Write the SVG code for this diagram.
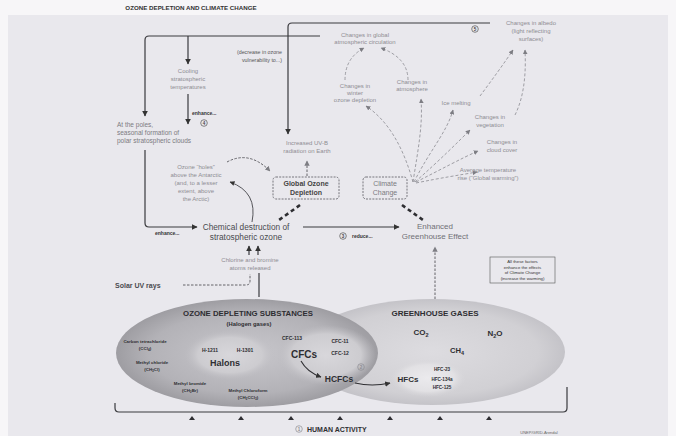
<svg xmlns="http://www.w3.org/2000/svg" width="676" height="436" viewBox="0 0 676 436">
<defs>
<style>
text{font-family:"Liberation Sans",Arial,sans-serif}
.lt{fill:#8e8d93;font-size:6px;text-anchor:middle}
.ln{fill:none;stroke:#3a3a3e;stroke-width:1.2}
.dl{fill:none;stroke:#8a8a90;stroke-width:0.8;stroke-dasharray:3 2}
.ddk{fill:none;stroke:#55555a;stroke-width:0.9;stroke-dasharray:2.5 1.5}
.box{fill:none;stroke:#6a6a70;stroke-width:0.9;stroke-dasharray:2 1.2}
.num{fill:none;stroke:#555;stroke-width:0.7}
.nt{font-size:4.5px;font-weight:bold;fill:#444;text-anchor:middle}
.ods{fill:#2e2e32;font-weight:bold;text-anchor:middle}
.chev{fill:none;stroke:#2e2e32;stroke-width:2.6;stroke-dasharray:4 3.2}
</style>
<marker id="ah" viewBox="0 0 10 10" refX="9" refY="5" markerWidth="5" markerHeight="5" orient="auto-start-reverse"><path d="M0,0 L10,5 L0,10 z" fill="#333"/></marker>
<marker id="ahg" viewBox="0 0 10 10" refX="9" refY="5" markerWidth="6" markerHeight="6" orient="auto-start-reverse"><path d="M0,0 L10,5 L0,10 z" fill="#7d7d83"/></marker>
<radialGradient id="gOds" cx="0.5" cy="0.5" r="0.5"><stop offset="0" stop-color="#c8c7cc"/><stop offset="0.75" stop-color="#b3b2b7"/><stop offset="1" stop-color="#9e9da2"/></radialGradient>
<radialGradient id="gGhg" cx="0.5" cy="0.5" r="0.5"><stop offset="0" stop-color="#dddce0"/><stop offset="0.8" stop-color="#d1d0d4"/><stop offset="1" stop-color="#c4c3c8"/></radialGradient>
<radialGradient id="gIn" cx="0.5" cy="0.5" r="0.5"><stop offset="0" stop-color="#d8d7db"/><stop offset="0.7" stop-color="#cdccd0"/><stop offset="1" stop-color="#bdbcc1" stop-opacity="0"/></radialGradient>
<radialGradient id="gHfc" cx="0.5" cy="0.5" r="0.5"><stop offset="0" stop-color="#ebeaed"/><stop offset="0.7" stop-color="#e2e1e4"/><stop offset="1" stop-color="#d6d5d9" stop-opacity="0"/></radialGradient>
</defs>

<rect x="0" y="0" width="676" height="436" fill="#f7f6f8"/>
<rect x="8" y="15" width="660" height="421" fill="#e9e8ed"/>
<text x="191" y="10" font-size="6.2" font-weight="bold" fill="#333" text-anchor="middle">OZONE DEPLETION AND CLIMATE CHANGE</text>

<g id="connectors">
<path class="ln" d="M320,36 H149 Q145,36 145,40 V116" marker-end="url(#ah)"/>
<path class="ln" d="M188,36 V64" marker-end="url(#ah)"/>
<path class="ln" d="M490,23 H292 Q288,23 288,27 V134" marker-end="url(#ah)"/>
<path class="ln" d="M188,94 V124" marker-end="url(#ah)"/>
<path class="ln" d="M145,150 V223 Q145,227 149,227 H197" marker-end="url(#ah)"/>
<path class="ln" d="M303,227 H399" marker-end="url(#ah)"/>
<path class="ln" d="M249,255 V246" marker-end="url(#ah)"/>
<path class="ln" d="M258,255 V246" marker-end="url(#ah)"/>
<path class="ln" d="M259,273 V297"/>
<path fill="none" stroke="#55555a" stroke-width="0.9" stroke-dasharray="2.5 1.5" d="M183,285 H246 Q250,285 250,281 V274"/>
<path class="ddk" d="M307,176 V161" marker-end="url(#ahg)"/>
<path class="ddk" d="M435,299 V247" marker-end="url(#ahg)"/>
<path class="ddk" d="M227,162 Q249,150 270,171" marker-end="url(#ahg)"/>
<path fill="none" stroke="#55555a" stroke-width="1" d="M252,222 Q258,192 230,182" marker-end="url(#ah)"/>
<path class="chev" d="M300,205 L279,220"/>
<path class="chev" d="M402,205 L423,220"/>
<path class="dl" d="M413,182 C404,150 390,122 366,106" marker-end="url(#ahg)"/>
<path class="dl" d="M413,182 C418,150 423,125 421,99" marker-end="url(#ahg)"/>
<path class="dl" d="M414,182 C430,150 447,132 453,110" marker-end="url(#ahg)"/>
<path class="dl" d="M415,182 C440,160 458,142 470,130" marker-end="url(#ahg)"/>
<path class="dl" d="M416,182 C440,170 462,158 478,151" marker-end="url(#ahg)"/>
<path class="dl" d="M416,183 C440,178 460,175 477,172" marker-end="url(#ahg)"/>
<path class="dl" d="M480,96 C492,80 505,62 513,50" marker-end="url(#ahg)"/>
<path class="dl" d="M515,115 C525,95 526,70 525,50" marker-end="url(#ahg)"/>
<path class="dl" d="M345,80 Q345,58 364,48" marker-end="url(#ahg)"/>
<path class="dl" d="M408,80 Q408,58 381,48" marker-end="url(#ahg)"/>
<path class="ln" d="M115,403 V408 Q115,412 119,412 H563 Q567,412 567,408 V387"/>
</g>

<g id="labels-top">
<g id="n-cooling"><text class="lt" font-size="5" x="188" y="73">Cooling</text><text class="lt" font-size="5" x="188" y="81">stratospheric</text><text class="lt" font-size="5" x="188" y="89">temperatures</text></g>
<g id="n-vuln"><text font-size="5.3" fill="#555" text-anchor="end" x="282" y="54">(decrease in ozone</text><text font-size="5.3" fill="#555" text-anchor="end" x="282" y="62">vulnerability to...)</text></g>
<g id="n-enh1"><text x="192" y="115" font-size="5" font-weight="bold" fill="#333">enhance...</text><circle class="num" cx="204" cy="123" r="3.3"/><text class="nt" x="204" y="124.7">4</text></g>
<g id="n-poles"><text font-size="6.5" fill="#7c7b81" x="117" y="127">At the poles,</text><text font-size="6.5" fill="#7c7b81" x="117" y="135">seasonal formation of</text><text font-size="6.5" fill="#7c7b81" x="117" y="143">polar stratospheric clouds</text></g>
<g id="n-holes"><text class="lt" font-size="6.3" fill="#7c7b81" x="196" y="169">Ozone “holes”</text><text class="lt" font-size="6.3" fill="#7c7b81" x="196" y="177">above the Antarctic</text><text class="lt" font-size="6.3" fill="#7c7b81" x="196" y="185">(and, to a lesser</text><text class="lt" font-size="6.3" fill="#7c7b81" x="196" y="193">extent, above</text><text class="lt" font-size="6.3" fill="#7c7b81" x="196" y="201">the Arctic)</text></g>
<g id="n-uvb"><text class="lt" font-size="6.6" fill="#6e6d73" x="307" y="145">Increased UV-B</text><text class="lt" font-size="6.6" fill="#6e6d73" x="307" y="153">radiation on Earth</text></g>
<g id="n-god"><rect class="box" x="273" y="177" width="66" height="22" rx="3"/><text x="306" y="186" font-size="7" font-weight="bold" fill="#444" text-anchor="middle">Global Ozone</text><text x="306" y="195" font-size="7" font-weight="bold" fill="#444" text-anchor="middle">Depletion</text></g>
<g id="n-cc"><rect class="box" x="363" y="177" width="44" height="22" rx="3"/><text x="385" y="186" font-size="7" fill="#7a7a80" text-anchor="middle">Climate</text><text x="385" y="195" font-size="7" fill="#7a7a80" text-anchor="middle">Change</text></g>
<g id="n-enh2"><text x="155" y="235" font-size="5" font-weight="bold" fill="#333">enhance...</text></g>
<g id="n-chem"><text x="246" y="230" font-size="8.3" fill="#4a4a4f" text-anchor="middle">Chemical destruction of</text><text x="246" y="240" font-size="8.3" fill="#4a4a4f" text-anchor="middle">stratospheric ozone</text></g>
<g id="n-reduce"><circle class="num" cx="343" cy="236" r="3.3"/><text class="nt" x="343" y="237.7">3</text><text x="352" y="238" font-size="5" font-weight="bold" fill="#333">reduce...</text></g>
<g id="n-ghe"><text x="435" y="229" font-size="8" fill="#707076" text-anchor="middle">Enhanced</text><text x="435" y="239" font-size="8" fill="#707076" text-anchor="middle">Greenhouse Effect</text></g>
<g id="n-circ"><text class="lt" font-size="6.5" x="365" y="37">Changes in global</text><text class="lt" font-size="6.5" x="365" y="44">atmospheric circulation</text></g>
<g id="n-five"><circle class="num" cx="475" cy="29" r="3.3"/><text class="nt" x="475" y="30.7">5</text></g>
<g id="n-albedo"><text class="lt" font-size="6.5" x="531" y="25">Changes in albedo</text><text class="lt" font-size="6.5" x="531" y="33">(light reflecting</text><text class="lt" font-size="6.5" x="531" y="41">surfaces)</text></g>
<g id="n-winter"><text class="lt" x="355" y="88">Changes in</text><text class="lt" x="355" y="95">winter</text><text class="lt" x="355" y="102">ozone depletion</text></g>
<g id="n-atm"><text class="lt" x="412" y="84">Changes in</text><text class="lt" x="412" y="91">atmosphere</text></g>
<g id="n-ice"><text class="lt" x="456" y="105">Ice melting</text></g>
<g id="n-veg"><text class="lt" x="490" y="119">Changes in</text><text class="lt" x="490" y="127">vegetation</text></g>
<g id="n-cloud"><text class="lt" x="502" y="144">Changes in</text><text class="lt" x="502" y="152">cloud cover</text></g>
<g id="n-temp"><text class="lt" text-anchor="start" x="488" y="172">Average temperature</text><text class="lt" text-anchor="start" x="488" y="180">rise (“Global warming”)</text></g>
<g id="n-note"><rect x="490" y="257" width="65" height="26" fill="none" stroke="#555" stroke-width="0.6"/><text font-size="4.3" fill="#333" text-anchor="middle" x="522.5" y="263">All these factors</text><text font-size="4.3" fill="#333" text-anchor="middle" x="522.5" y="268.5">enhance the effects</text><text font-size="4.3" fill="#333" text-anchor="middle" x="522.5" y="274">of Climate Change</text><text font-size="4.3" fill="#333" text-anchor="middle" x="522.5" y="279.5">(increase the warming)</text></g>
<g id="n-chlorine"><text class="lt" font-size="6" fill="#6e6d73" x="250" y="262">Chlorine and bromine</text><text class="lt" font-size="6" fill="#6e6d73" x="250" y="270">atoms released</text></g>
<g id="n-solar"><text x="115" y="288" font-size="7" font-weight="bold" fill="#4a4a4f">Solar UV rays</text></g>
</g>

<g id="n-ghg">
<ellipse cx="432" cy="352" rx="133" ry="53" fill="url(#gGhg)"/>
<text class="ods" x="435" y="316" font-size="8">GREENHOUSE GASES</text>
<text class="ods" x="421" y="335" font-size="8">CO<tspan font-size="5.5" dy="1.5">2</tspan></text>
<text class="ods" x="495" y="336" font-size="8">N<tspan font-size="5.5" dy="1.5">2</tspan><tspan dy="-1.5">O</tspan></text>
<text class="ods" x="457" y="353" font-size="7.6">CH<tspan font-size="5.5" dy="1.5">4</tspan></text>
</g>
<g id="n-ods">
<ellipse cx="247" cy="353" rx="131" ry="54" fill="url(#gOds)"/>
<ellipse cx="230" cy="355" rx="46" ry="25" fill="url(#gIn)"/>
<ellipse cx="326" cy="355" rx="50" ry="30" fill="url(#gIn)"/>
<text class="ods" x="248" y="316" font-size="7.8">OZONE DEPLETING SUBSTANCES</text>
<text class="ods" x="249" y="326" font-size="5.8">(Halogen gases)</text>
<text class="ods" x="145" y="343" font-size="4.4">Carbon tetrachloride</text>
<text class="ods" x="145" y="350" font-size="4.4">(CCl<tspan font-size="3.2" dy="1">4</tspan><tspan dy="-1">)</tspan></text>
<text class="ods" x="152" y="364" font-size="4.4">Methyl chloride</text>
<text class="ods" x="152" y="371" font-size="4.4">(CH<tspan font-size="3.2" dy="1">3</tspan><tspan dy="-1">Cl)</tspan></text>
<text class="ods" x="190" y="385" font-size="4.4">Methyl bromide</text>
<text class="ods" x="190" y="392" font-size="4.4">(CH<tspan font-size="3.2" dy="1">3</tspan><tspan dy="-1">Br)</tspan></text>
<text class="ods" x="248" y="392" font-size="4.4">Methyl Chloroform</text>
<text class="ods" x="248" y="399" font-size="4.4">(CH<tspan font-size="3.2" dy="1">3</tspan><tspan dy="-1">CCl</tspan><tspan font-size="3.2" dy="1">3</tspan><tspan dy="-1">)</tspan></text>
<text class="ods" x="210" y="352" font-size="5">H-1211</text>
<text class="ods" x="245" y="352" font-size="5">H-1301</text>
<text class="ods" x="225" y="366" font-size="9">Halons</text>
<text class="ods" x="292" y="340" font-size="5">CFC-113</text>
<text class="ods" x="340" y="343" font-size="5">CFC-11</text>
<text class="ods" x="340" y="355" font-size="5">CFC-12</text>
<text class="ods" x="304" y="358" font-size="10">CFCs</text>
<text class="ods" x="339" y="382" font-size="8.5">HCFCs</text>
<circle cx="361" cy="367" r="3.3" fill="none" stroke="#8d8c92" stroke-width="0.7"/><text x="361" y="368.7" font-size="4.5" font-weight="bold" fill="#8d8c92" text-anchor="middle">2</text>
</g>
<g id="n-hfcs">
<ellipse cx="428" cy="378" rx="38" ry="19" fill="url(#gHfc)"/>
<text class="ods" x="408" y="382" font-size="8">HFCs</text>
<text class="ods" x="442" y="371" font-size="4.6">HFC-23</text>
<text class="ods" x="442" y="381" font-size="4.6">HFC-134a</text>
<text class="ods" x="442" y="389" font-size="4.6">HFC-125</text>
</g>
<g id="connectors-ods">
<path fill="none" stroke="#2e2e32" stroke-width="1.1" d="M301,361 Q307,372 321,377" marker-end="url(#ah)"/>
<path fill="none" stroke="#2e2e32" stroke-width="1.1" d="M355,383 Q372,387 390,383" marker-end="url(#ah)"/>
</g>
<g id="n-human">
<g fill="#2e2e32"><path d="M189,420 L192,416 L195,420 z"/><path d="M238,420 L241,416 L244,420 z"/><path d="M288,420 L291,416 L294,420 z"/><path d="M337,420 L340,416 L343,420 z"/><path d="M387,420 L390,416 L393,420 z"/><path d="M437,420 L440,416 L443,420 z"/><path d="M486,420 L489,416 L492,420 z"/></g>
<circle cx="299" cy="429" r="3.3" fill="none" stroke="#8d8c92" stroke-width="0.7"/><text x="299" y="430.7" font-size="4.5" font-weight="bold" fill="#8d8c92" text-anchor="middle">1</text>
<text x="307" y="431.5" font-size="7" font-weight="bold" fill="#2e2e32">HUMAN ACTIVITY</text>
</g>
<text x="539" y="434" font-size="4" fill="#666" text-anchor="middle">UNEP/GRID-Arendal</text>
</svg>
